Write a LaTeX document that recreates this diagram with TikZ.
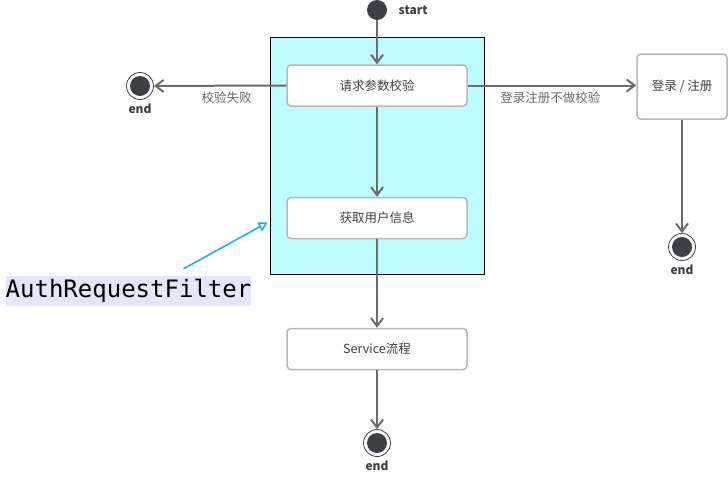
\documentclass[tikz,border=0pt]{standalone}
\usepackage{fontspec}
\newfontfamily\cjk{Noto Sans CJK SC}
\newfontfamily\codefont{DejaVu Sans Mono}
\usetikzlibrary{arrows.meta}
\definecolor{dot}{HTML}{3D4045}
\definecolor{flow}{HTML}{6B6B6B}
\definecolor{boxline}{HTML}{B8B8B8}
\definecolor{txt}{HTML}{404040}
\definecolor{lbl}{HTML}{6A6A6A}
\definecolor{filterbg}{HTML}{BEFCFF}
\definecolor{hint}{HTML}{12AEE8}
\definecolor{codebg}{HTML}{E6E6FA}
\begin{document}
\begin{tikzpicture}[x=1pt,y=-1pt,
  every node/.style={font=\cjk\fontsize{12.5}{14}\selectfont},
  state/.style={draw=boxline, line width=1.5pt, rounded corners=4pt, fill=white,
    text=txt, minimum width=180pt, minimum height=41pt, inner sep=0pt},
  startstate/.style={circle, fill=dot, minimum size=20pt, inner sep=0pt},
  endstate/.style={circle, draw=dot, line width=0.8pt, fill=white, minimum size=27pt,
    inner sep=0pt, path picture={\fill[dot] (path picture bounding box.center) circle (10pt);},
    label={[label distance=0.5pt, text=dot, font=\cjk\bfseries\fontsize{12}{14}\selectfont]below:end}},
  flowline/.style={draw=flow, line width=2pt, -{Straight Barb[length=8pt,width=12pt]}},
  flowlbl/.style={text=lbl, inner sep=5pt}]
\useasboundingbox (0,0) rectangle (728,477);
\node[draw=black, line width=1pt, fill=filterbg, minimum width=214pt, minimum height=237pt] (authbox) at (377,155.5) {};
\node[startstate, label={[label distance=8pt, text=dot, font=\cjk\bfseries\fontsize{12}{14}\selectfont]right:start}] (start) at (377,10) {};
\node[state] (check) at (377,85.5) {请求参数校验};
\node[state] (user) at (377,218) {获取用户信息};
\node[state] (service) at (377,349) {Service流程};
\node[state, minimum width=90pt, minimum height=65pt] (login) at (682,86.5) {登录 / 注册};
\node[endstate] (failend) at (140,86) {};
\node[endstate] (loginend) at (682,247) {};
\node[endstate] (serviceend) at (377,443) {};
\node[fill=codebg, text=black, inner xsep=0pt, minimum height=26pt,
  font=\codefont\fontsize{24}{26}\selectfont] (filter) at (128.5,291) {AuthRequestFilter};
\draw[flowline] (start) -- (check);
\draw[flowline] (check) -- (user);
\draw[flowline] (user) -- (service);
\draw[flowline] (service) -- (serviceend);
\draw[flowline] (check.west) -- node[flowlbl, below, pos=0.45] {校验失败} (failend);
\draw[flowline] (check.east) -- node[flowlbl, below, pos=0.49] {登录注册不做校验} (login.west |- check.east);
\draw[flowline] (login) -- (loginend);
\draw[draw=hint, line width=1.5pt, -{Triangle[open, length=9pt, width=10pt]}]
  ([xshift=55pt,yshift=7pt]filter.north) -- ([xshift=-2pt,yshift=52pt]authbox.south west);
\end{tikzpicture}
\end{document}
